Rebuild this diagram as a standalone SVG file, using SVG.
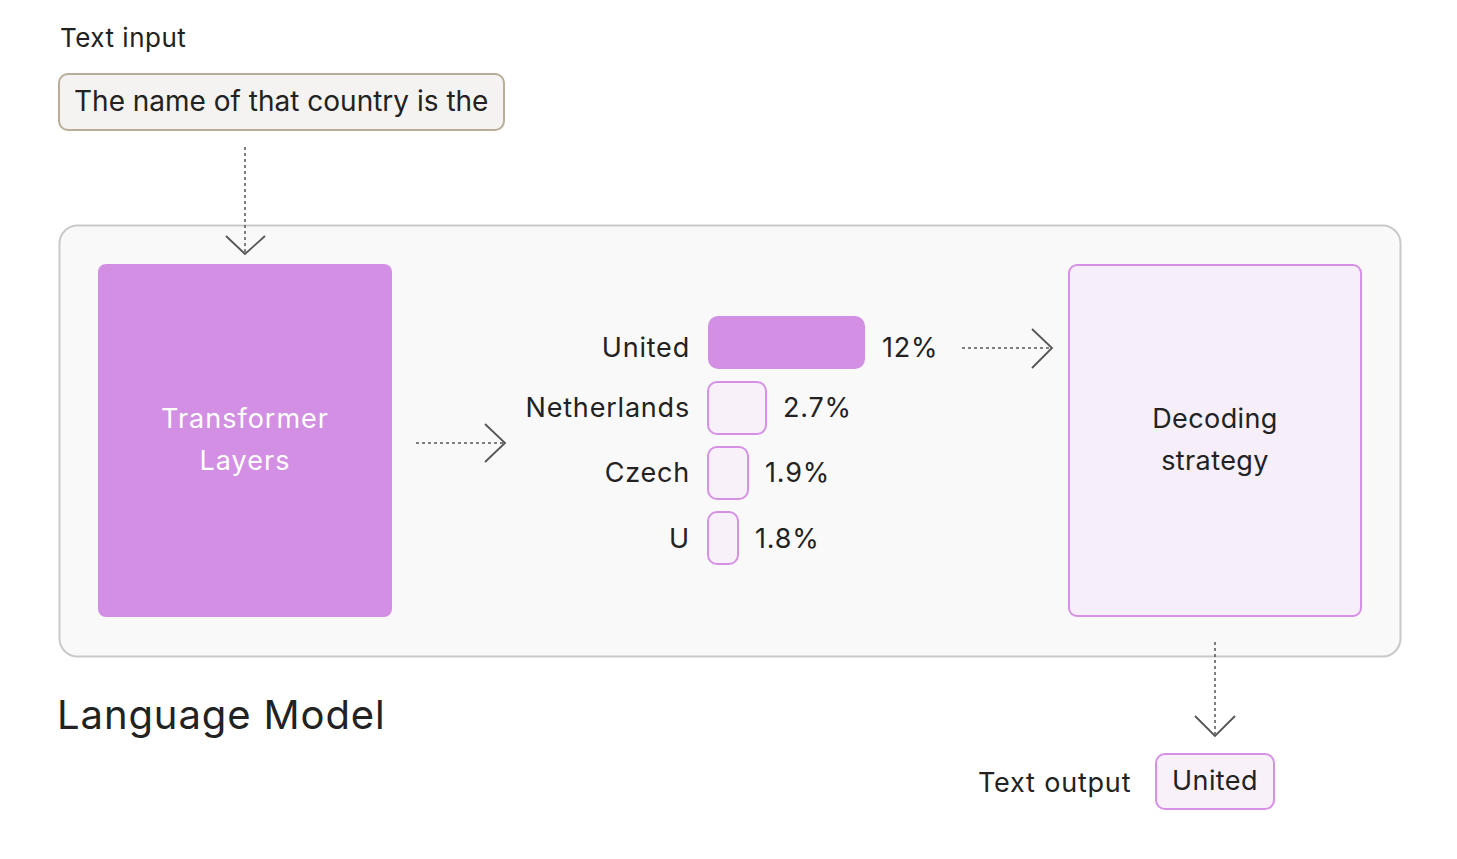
<svg xmlns="http://www.w3.org/2000/svg" width="1457" height="859" viewBox="0 0 1457 859">
<style>
text{font-family:Inter,"Noto Sans",sans-serif;fill:#222;}
.lbl{font-size:27px;letter-spacing:0.8px;}
.ctr{text-anchor:middle;}
.end{text-anchor:end;}
.dash{stroke:#555;stroke-width:1.5;stroke-dasharray:3 3;fill:none;}
.head{stroke:#555;stroke-width:1.8;fill:none;}
.pb{fill:#f8f1f9;stroke:#d690e6;stroke-width:2;}
</style>
<rect width="1457" height="859" fill="#ffffff"/>
<g id="container">
<rect x="59.5" y="225.5" width="1341" height="431" rx="18" fill="#f9f9f9" stroke="#c9c9c9" stroke-width="2"/>
<text x="57" y="729" font-size="40" letter-spacing="0.9">Language Model</text>
</g>
<g id="text-input">
<text x="60" y="47" font-size="26" letter-spacing="0.5">Text input</text>
<rect x="59" y="74" width="445" height="56" rx="9" fill="#f4f3f1" stroke="#b8ad98" stroke-width="2"/>
<text x="74" y="111" font-size="28">The name of that country is the</text>
</g>
<g id="transformer">
<rect x="98" y="264" width="294" height="353" rx="8" fill="#d28fe3"/>
<text x="245" y="428" class="ctr" font-size="27" letter-spacing="1" style="fill:#fff">Transformer</text>
<text x="245" y="470" class="ctr" font-size="27" letter-spacing="1" style="fill:#fff">Layers</text>
</g>
<g id="probs">
<rect x="708" y="316" width="157" height="53" rx="10" fill="#d28fe3"/>
<text x="690" y="357" class="end lbl">United</text>
<text x="882" y="357" class="lbl">12%</text>
<rect class="pb" x="708" y="382" width="58" height="52" rx="9"/>
<text x="690" y="417" class="end lbl">Netherlands</text>
<text x="783" y="417" class="lbl">2.7%</text>
<rect class="pb" x="708" y="447" width="40" height="52" rx="9"/>
<text x="690" y="482" class="end lbl">Czech</text>
<text x="765" y="482" class="lbl">1.9%</text>
<rect class="pb" x="708" y="512" width="30" height="52" rx="9"/>
<text x="690" y="548" class="end lbl">U</text>
<text x="755" y="548" class="lbl">1.8%</text>
</g>
<g id="decoding">
<rect x="1069" y="265" width="292" height="351" rx="8" fill="#f6eef8" stroke="#d690e6" stroke-width="2"/>
<text x="1215" y="428" class="ctr" font-size="27" letter-spacing="0.4">Decoding</text>
<text x="1215" y="470" class="ctr" font-size="27" letter-spacing="0.4">strategy</text>
</g>
<g id="text-output">
<text x="978" y="792" class="lbl">Text output</text>
<rect x="1156" y="754" width="118" height="55" rx="9" fill="#f8f1f9" stroke="#d690e6" stroke-width="2"/>
<text x="1215" y="790" class="ctr" font-size="27" letter-spacing="0.4">United</text>
</g>
<g id="connectors">
<path class="dash" d="M245 147V253"/>
<path class="head" d="M226 236L245 254L265 236"/>
<path class="dash" d="M416 443H503"/>
<path class="head" d="M485 424L505 443L485 462"/>
<path class="dash" d="M962 348H1050"/>
<path class="head" d="M1032 329L1052 348L1032 368"/>
<path class="dash" d="M1215 642V734"/>
<path class="head" d="M1195 716L1215 736L1235 716"/>
</g>
</svg>
